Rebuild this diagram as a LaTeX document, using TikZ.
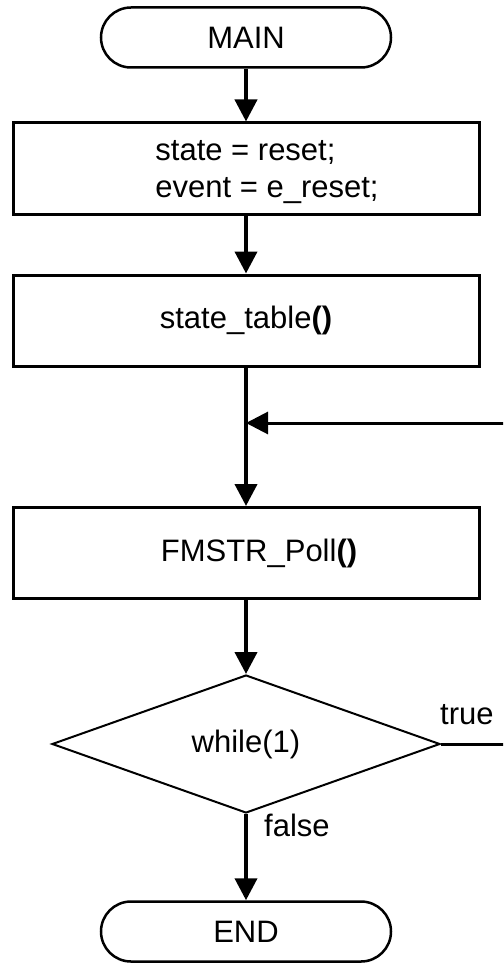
\documentclass[tikz,border=0pt]{standalone}
\usepackage{fontspec}
\setmainfont{Liberation Sans}
\usetikzlibrary{shapes.geometric,arrows.meta}
\begin{document}
\begin{tikzpicture}[x=1pt,y=-1pt,
  every node/.style={font=\fontsize{31}{37}\selectfont},
  terminal/.style={draw, line width=2.5pt, rounded corners=30pt,
    minimum width=290pt, minimum height=60pt, inner sep=0pt},
  procbox/.style={draw, line width=3pt, minimum width=466pt,
    minimum height=91pt, inner sep=0pt},
  decision/.style={diamond, draw, line width=2pt, minimum width=388pt,
    minimum height=138pt, inner sep=0pt},
  flow/.style={line width=4pt, -{Triangle[length=22pt,width=22pt]}},
  loopback/.style={line width=3pt, -{Triangle[length=22pt,width=22pt]}}]
  \useasboundingbox (0,0) rectangle (503,963);
  \clip (0,0) rectangle (503,963);

  % blocks
  \node[terminal] (main) at (246,37.5) {MAIN};
  \node[procbox] (init) at (246,168.5) {};
  \node[align=left] (inittext) at (267,172) {state = reset;\\event = e\_reset;};
  \node[procbox] (table) at (246,320.5) {state\_table\textbf{()}};
  \node[procbox] (poll) at (246,553) {};
  \node (polltext) at (259,553) {FMSTR\_Poll\textbf{()}};
  \node[decision] (loop) at (246,744) {while(1)};
  \node[terminal] (end) at (246,931.5) {END};

  % branch labels
  \node[anchor=base west, inner sep=0pt] (truelbl) at (440,724) {true};
  \node[anchor=west, inner sep=0pt] (falselbl) at (264,825) {false};

  % junction of the loop with the main line
  \coordinate (join) at (246,423);
  \coordinate (back) at (520,744);

  % connectors
  \draw[flow] (main) -- (init);
  \draw[flow] (init) -- (table);
  \draw[flow] (table) -- (poll);
  \draw[flow] (poll) -- (loop);
  \draw[flow] (loop) -- (end);
  \draw[loopback] (loop.east) -- (back) |- (join);
\end{tikzpicture}
\end{document}
